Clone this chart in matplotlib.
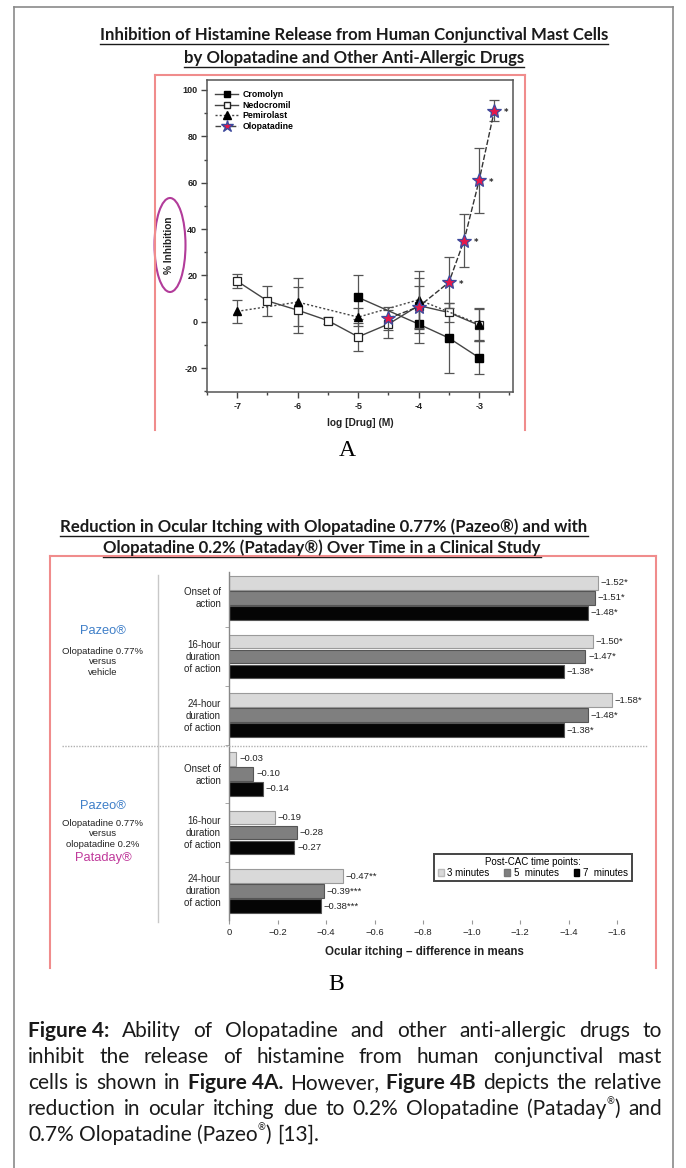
import matplotlib
matplotlib.use("Agg")
import matplotlib.pyplot as plt
from matplotlib.patches import Ellipse, Patch
from matplotlib.lines import Line2D

plt.rcParams["axes.unicode_minus"] = False

W, H = 686, 1168

# ---------------- Panel A data ----------------
crom_x = [-5, -4, -3.5, -3]
crom_y = [10.5, -1, -7, -15.5]
crom_err = [9.5, 8, 15, 7]

ned_x = [-7, -6.5, -6, -5.5, -5, -4.5, -4, -3.5, -3]
ned_y = [17.5, 9, 5, 0.5, -6.5, -1, 7, 4, -1.5]
ned_err = [3, 6.5, 10, 1.5, 6, 6, 12, 4, 7]

pem_x = [-7, -6, -5, -4, -3]
pem_y = [4.5, 8.5, 2, 9.5, -1]
pem_err = [5, 10.5, 4, 12.5, 7]

olo_x = [-4.5, -4, -3.5, -3.25, -3, -2.75]
olo_y = [1.5, 6.5, 17, 35, 61, 91]
olo_err = [5, 9, 11, 11.5, 14, 4.5]
olo_sig = [False, False, True, True, True, True]

# ---------------- Panel B data ----------------
group_labels = ["Onset of\naction", "16-hour\nduration\nof action", "24-hour\nduration\nof action",
                "Onset of\naction", "16-hour\nduration\nof action", "24-hour\nduration\nof action"]
series_names = ["3 minutes", "5  minutes", "7  minutes"]
vals_3 = [-1.52, -1.50, -1.58, -0.03, -0.19, -0.47]
vals_5 = [-1.51, -1.47, -1.48, -0.10, -0.28, -0.39]
vals_7 = [-1.48, -1.38, -1.38, -0.14, -0.27, -0.38]
sig_3 = ["*", "*", "*", "", "", "**"]
sig_5 = ["*", "*", "*", "", "", "***"]
sig_7 = ["*", "*", "*", "", "", "***"]
xticks_b = [0, -0.2, -0.4, -0.6, -0.8, -1.0, -1.2, -1.4, -1.6]

fig = plt.figure(figsize=(W / 100, H / 100), dpi=100)


def fx(x):
    return x / W


def fy(y):
    return 1 - y / H


def frect(l, t, r, b):
    return [fx(l), fy(b), (r - l) / W, (b - t) / H]


def fline(xs, ys, **kw):
    fig.add_artist(Line2D([fx(x) for x in xs], [fy(y) for y in ys], transform=fig.transFigure, **kw))


# outer gray border
fline([14, 14], [7, 1175], color="#8a8a8a", lw=1.2)
fline([673, 673], [7, 1175], color="#8a8a8a", lw=1.2)
fline([14, 673], [7, 7], color="#8a8a8a", lw=1.2)

renderer = fig.canvas.get_renderer()


def underlined_title(x, y, s, size):
    t = fig.text(fx(x), fy(y), s, ha="center", va="center", fontsize=size,
                 family="Lato", fontweight="bold", color="#1a1a1a")
    bb = t.get_window_extent(renderer)
    yline = bb.y0 - 0.5
    fig.add_artist(Line2D([bb.x0 / W, bb.x1 / W], [yline / H, yline / H], transform=fig.transFigure,
                          color="#1a1a1a", lw=1.0))
    return t


TS = 12.1
# ---------------- Panel A ----------------
underlined_title(354, 35, "Inhibition of Histamine Release from Human Conjunctival Mast Cells", TS)
underlined_title(354, 58, "by Olopatadine and Other Anti-Allergic Drugs", TS)

red = "#f08c8c"
fline([155, 525], [75, 75], color=red, lw=1.5)
fline([155, 155], [75, 430], color=red, lw=1.5)
fline([525, 525], [75, 430], color=red, lw=1.5)

axA = fig.add_axes(frect(207, 80, 513, 392))
axA.set_xlim(-7.5, -2.44)
axA.set_ylim(-30.3, 104.3)
ekw = dict(capsize=3.5, elinewidth=0.9, capthick=0.9, ecolor="#555555")
axA.errorbar(ned_x, ned_y, yerr=ned_err, color="#444444", lw=1.0, ls="-", marker="s", ms=5.5,
             mfc="white", mec="#222222", mew=0.9, zorder=3, **ekw)
axA.errorbar(crom_x, crom_y, yerr=crom_err, color="#444444", lw=1.0, ls="-", marker="s", ms=5.5,
             mfc="black", mec="black", zorder=3, **ekw)
axA.errorbar(pem_x, pem_y, yerr=pem_err, color="#444444", lw=1.0, ls=(0, (1.5, 1.5)), marker="^", ms=6,
             mfc="black", mec="black", zorder=3, **ekw)
axA.errorbar(olo_x, olo_y, yerr=olo_err, color="#333333", lw=1.0, ls=(0, (4, 1.5)), marker="*", ms=10,
             mfc="#e6194b", mec="#3b4a9e", mew=0.9, zorder=4, **ekw)
for x, y, s in zip(olo_x, olo_y, olo_sig):
    if s:
        axA.annotate("*", (x, y), xytext=(7, -3), textcoords="offset points", fontsize=6,
                     fontweight="bold", color="#222222")

h = [Line2D([], [], color="#444444", lw=1, marker="s", mfc="black", mec="black", ms=5),
     Line2D([], [], color="#444444", lw=1, marker="s", mfc="white", mec="#222222", ms=5),
     Line2D([], [], color="#444444", lw=1, ls=(0, (1.5, 1.5)), marker="^", mfc="black", mec="black", ms=5.5),
     Line2D([], [], color="#444444", lw=1, ls=(0, (4, 1.5)), marker="*", mfc="#e6194b", mec="#3b4a9e", ms=9)]
axA.legend(h, ["Cromolyn", "Nedocromil", "Pemirolast", "Olopatadine"], loc="upper left",
           frameon=False, handlelength=2.6, labelspacing=0.2, handletextpad=0.5,
           bbox_to_anchor=(0.01, 0.985), borderaxespad=0.2,
           prop={"family": "Liberation Sans", "weight": "bold", "size": 6.3})

axA.set_xticks([-7, -6, -5, -4, -3])
axA.set_xticks([-7.5, -6.5, -5.5, -4.5, -3.5, -2.5], minor=True)
axA.set_yticks([-20, 0, 20, 40, 60, 80, 100])
axA.set_yticks([-30, -10, 10, 30, 50, 70, 90], minor=True)
axA.tick_params(which="major", length=4, width=1, color="#444444", labelsize=6.5, pad=3)
axA.tick_params(which="minor", length=2.5, width=1, color="#444444")
for lab in axA.get_xticklabels() + axA.get_yticklabels():
    lab.set_fontweight("bold")
    lab.set_family("Liberation Sans")
    lab.set_color("#222222")
for sp in axA.spines.values():
    sp.set_color("#555555")
    sp.set_linewidth(1.1)

fig.text(fx(360), fy(423), "log [Drug] (M)", ha="center", va="center", fontsize=7.3,
         family="Liberation Sans", fontweight="bold", color="#222222")
fig.text(fx(169), fy(245), "% Inhibition", ha="center", va="center", rotation=90, fontsize=7.3,
         family="Liberation Sans", fontweight="bold", color="#222222")
fig.add_artist(Ellipse((fx(170), fy(245)), 31 / W, 94 / H, transform=fig.transFigure,
                       fill=False, ec="#b23c9a", lw=1.5))
fig.text(fx(347), fy(451), "A", ha="center", va="center", fontsize=17, family="Liberation Serif",
         color="black")

# ---------------- Panel B ----------------
underlined_title(324, 527, "Reduction in Ocular Itching with Olopatadine 0.77% (Pazeo\u00ae) and with", TS)
underlined_title(322, 548, "Olopatadine 0.2% (Pataday\u00ae) Over Time in a Clinical Study", TS)

fline([50, 656], [556, 556], color=red, lw=1.5)
fline([50, 50], [556, 968], color=red, lw=1.5)
fline([656, 656], [556, 968], color=red, lw=1.5)

axB = fig.add_axes(frect(229, 572, 617, 920))
axB.set_xlim(0, -1.6)
axB.set_ylim(5.49, -0.44)
colors = ["#d9d9d9", "#7f7f7f", "#050505"]
offs = [-0.255, 0, 0.255]
series = [vals_3, vals_5, vals_7]
sigs = [sig_3, sig_5, sig_7]
for j in range(3):
    pos = [g + offs[j] for g in range(len(group_labels))]
    axB.barh(pos, series[j], height=0.235, color=colors[j], edgecolor="#9a9a9a" if j == 0 else "#555555",
             linewidth=0.8, zorder=2)
    for p, v, s in zip(pos, series[j], sigs[j]):
        axB.annotate("\u2212%.2f%s" % (abs(v), s), (v, p), xytext=(2, 0), textcoords="offset points",
                     ha="left", va="center", fontsize=6.8, family="Liberation Sans", color="#222222")

axB.set_yticks(range(len(group_labels)))
axB.set_yticklabels([])
axB.set_yticks([0.5, 1.5, 2.5, 3.5, 4.5], minor=True)
axB.tick_params(axis="y", which="major", length=0)
axB.tick_params(axis="y", which="minor", length=3, color="#999999")
axB.set_xticks(xticks_b)
axB.set_xticklabels(["0"] + ["\u2212%.1f" % abs(t) for t in xticks_b[1:]], fontsize=6.8,
                    family="Liberation Sans", color="#222222")
axB.tick_params(axis="x", length=3, color="#999999", pad=3)
for k in ["top", "right", "bottom"]:
    axB.spines[k].set_visible(False)
axB.spines["left"].set_color("#888888")
axB.spines["left"].set_linewidth(1.0)

group_y_px = [598, 657, 716, 775, 833, 891]
for lab, gy in zip(group_labels, group_y_px):
    fig.text(fx(221), fy(gy), lab, ha="right", va="center", fontsize=7.0, family="Liberation Sans",
             color="#222222", linespacing=1.25)

fig.text(fx(424), fy(952), "Ocular itching \u2013 difference in means", ha="center", va="center",
         fontsize=8.3, family="Liberation Sans", fontweight="bold", color="#222222")

# separators
fline([62, 647], [745.5, 745.5], color="#b0b0b0", lw=1.0, ls=(0, (1, 1)))
fline([158, 158], [575, 922], color="#c8c8c8", lw=1.0)

blue = "#3f7fc8"
mag = "#c03a9b"
fig.text(fx(103), fy(631), "Pazeo\u00ae", ha="center", va="center", fontsize=9.3, color=blue,
         family="Liberation Sans")
fig.text(fx(103), fy(662), "Olopatadine 0.77%\nversus\nvehicle", ha="center", va="center", fontsize=6.8,
         color="#222222", family="Liberation Sans", linespacing=1.2)
fig.text(fx(103), fy(806), "Pazeo\u00ae", ha="center", va="center", fontsize=9.3, color=blue,
         family="Liberation Sans")
fig.text(fx(103), fy(834), "Olopatadine 0.77%\nversus\nolopatadine 0.2%", ha="center", va="center",
         fontsize=6.8, color="#222222", family="Liberation Sans", linespacing=1.2)
fig.text(fx(103), fy(858), "Pataday\u00ae", ha="center", va="center", fontsize=9.3, color=mag,
         family="Liberation Sans")

leg_handles = [Patch(facecolor=colors[0], edgecolor="#bbbbbb"), Patch(facecolor=colors[1], edgecolor="#777777"),
               Patch(facecolor=colors[2], edgecolor="#000000")]
lg = fig.legend(leg_handles, series_names, loc="center", bbox_to_anchor=(fx(533), fy(867.5)),
                ncol=3, title="Post-CAC time points:", title_fontsize=7,
                handlelength=0.6, handleheight=0.6, handletextpad=0.4, columnspacing=1.5,
                borderpad=0.35, labelspacing=0.1, fancybox=False, framealpha=1,
                prop={"family": "Liberation Sans", "size": 7})
lg.get_title().set_family("Liberation Sans")
lg.get_frame().set_edgecolor("#444444")
lg.get_frame().set_linewidth(1.4)

fig.text(fx(336), fy(985), "B", ha="center", va="center", fontsize=17, family="Liberation Serif",
         color="black")

# ---------------- Caption (justified) ----------------
cap_fs = 15.0
cap_family = "Lato"
cap_lines = [
    [[("Figure 4:", "bold")], [("Ability", "")], [("of", "")], [("Olopatadine", "")], [("and", "")],
     [("other", "")], [("anti-allergic", "")], [("drugs", "")], [("to", "")]],
    [[("inhibit", "")], [("the", "")], [("release", "")], [("of", "")], [("histamine", "")], [("from", "")],
     [("human", "")], [("conjunctival", "")], [("mast", "")]],
    [[("cells", "")], [("is", "")], [("shown", "")], [("in", "")], [("Figure 4A.", "bold")], [("However,", "")],
     [("Figure 4B", "bold")], [("depicts", "")], [("the", "")], [("relative", "")]],
    [[("reduction", "")], [("in", "")], [("ocular", "")], [("itching", "")], [("due", "")], [("to", "")],
     [("0.2%", "")], [("Olopatadine", "")], [("(Pataday", ""), ("\u00ae", "sup"), (")", "")], [("and", "")]],
    [[("0.7%", "")], [("Olopatadine", "")], [("(Pazeo", ""), ("\u00ae", "sup"), (")", "")], [("[13].", "")]],
]
cap_y = [1031, 1057, 1083, 1109, 1135]
x_left, x_right = 28, 662


def run_text(s, style, x, y, draw=True):
    size = cap_fs * 0.45 if style == "sup" else cap_fs
    yy = y - 7 if style == "sup" else y
    t = fig.text(fx(x), fy(yy), s, ha="left", va="center", fontsize=size, family=cap_family,
                 fontweight="bold" if style == "bold" else "normal", color="#1a1a1a")
    w = t.get_window_extent(renderer).width
    if not draw:
        t.remove()
    return w


space_w = run_text("a a", "", 0, 0, draw=False) - 2 * run_text("a", "", 0, 0, draw=False)
for li, (words, y) in enumerate(zip(cap_lines, cap_y)):
    widths = []
    for word in words:
        widths.append(sum(run_text(s, st, 0, y, draw=False) for s, st in word))
    if li < len(cap_lines) - 1:
        gap = (x_right - x_left - sum(widths)) / (len(words) - 1)
    else:
        gap = space_w
    x = x_left
    for word, wd in zip(words, widths):
        xx = x
        for s, st in word:
            xx += run_text(s, st, xx, y)
        x += wd + gap

fig.savefig("out.png", dpi=100)
